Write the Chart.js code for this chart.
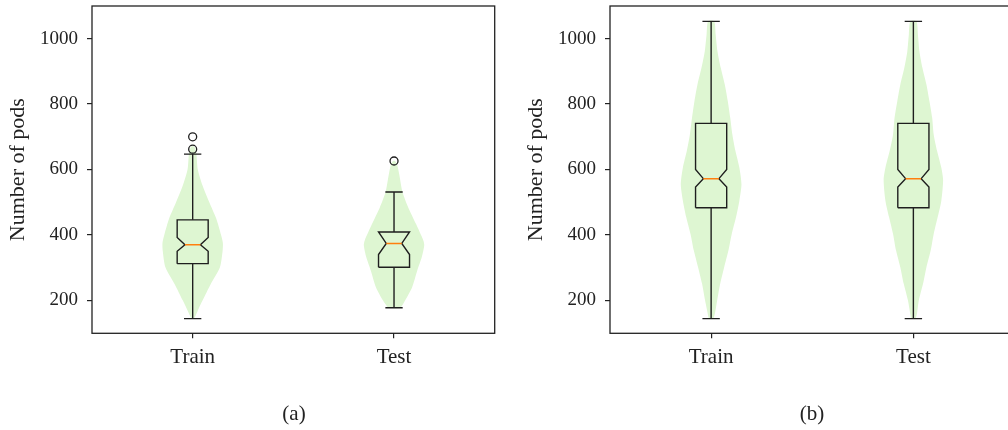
<!DOCTYPE html>
<html>
<head>
<meta charset="utf-8">
<script src="https://cdn.jsdelivr.net/npm/chart.js@4.4.0/dist/chart.umd.min.js"></script>
<style>
  html, body { margin: 0; padding: 0; background: #fff; overflow: hidden; }
  body { width: 1008px; height: 430px; position: relative; }
  .panel { position: absolute; top: 0; width: 500px; height: 430px; }
  #wrapA { left: 0; }
  #wrapB { left: 518px; }
  .caption {
    position: absolute; top: 401px; width: 100px; text-align: center;
    font-family: 'Liberation Serif', 'DejaVu Serif', serif; font-size: 21px; color: #222;
    line-height: 24px;
  }
  #capA { left: 244px; }
  #capB { left: 762px; }
</style>
</head>
<body>
<div class="panel" id="wrapA"><canvas id="chartA" width="500" height="430"></canvas></div>
<div class="panel" id="wrapB"><canvas id="chartB" width="500" height="430"></canvas></div>
<div class="caption" id="capA">(a)</div>
<div class="caption" id="capB">(b)</div>
<script>
// ---- data ----
const categories = ['Train', 'Test'];
const yTicks = [200, 400, 600, 800, 1000];

// panel (a): violin outline (value levels + relative width) and box stats
const a_trainLevels  = [145, 175, 200, 250, 300, 350, 375, 400, 450, 500, 550, 600, 650, 670];
const a_trainDensity = [0.05, 0.2, 0.33, 0.6, 0.9, 0.99, 1.0, 0.94, 0.78, 0.55, 0.33, 0.17, 0.12, 0.05];
const a_testLevels   = [177, 200, 240, 291, 332, 368, 383, 433, 484, 531, 586, 616, 626];
const a_testDensity  = [0.2, 0.37, 0.6, 0.77, 0.92, 1.0, 0.97, 0.73, 0.47, 0.28, 0.17, 0.1, 0.03];
const a_whiskerLow  = [144, 177];
const a_q1          = [312, 301];
const a_notchLow    = [350, 340];
const a_median      = [370, 374];
const a_notchHigh   = [392, 409];
const a_q3          = [446, 409];
const a_whiskerHigh = [647, 531];
const a_fliers      = [[662, 700], [626]];

// panel (b)
const b_trainLevels  = [145, 200, 251, 301, 352, 403, 454, 504, 555, 606, 657, 707, 758, 809, 860, 910, 961, 1012, 1053];
const b_trainDensity = [0.08, 0.2, 0.3, 0.43, 0.57, 0.68, 0.82, 0.93, 1.0, 0.93, 0.8, 0.7, 0.63, 0.55, 0.45, 0.32, 0.21, 0.15, 0.1];
const b_testLevels   = [145, 200, 251, 301, 352, 403, 454, 504, 568, 606, 657, 707, 758, 809, 860, 910, 961, 1012, 1053];
const b_testDensity  = [0.08, 0.18, 0.32, 0.43, 0.57, 0.67, 0.8, 0.92, 0.98, 0.92, 0.78, 0.67, 0.62, 0.53, 0.43, 0.3, 0.2, 0.15, 0.1];
const b_whiskerLow  = [144, 144];
const b_q1          = [483, 483];
const b_notchLow    = [546, 546];
const b_median      = [572, 572];
const b_notchHigh   = [600, 600];
const b_q3          = [741, 741];
const b_whiskerHigh = [1053, 1053];
const b_fliers      = [[], []];

// ---- styling ----
const VIOLIN_HALF = 0.15;
const BOX_HALF = 0.077;
const CAP_HALF = 0.043;
const VIOLIN_COLOR = 'rgb(222, 246, 210)';
const LINE_COLOR = '#1e1e1e';
const FONT = "'Liberation Serif', 'DejaVu Serif', serif";

function line(data, color, width, order) {
  return {
    data: data, showLine: true, fill: false, borderColor: color, borderWidth: width,
    pointRadius: 0, order: order, tension: 0
  };
}

function buildDatasets(p) {
  const sets = [];
  categories.forEach((name, i) => {
    const pos = i + 1;
    const lv = p.levels[i], dn = p.density[i];
    const left = lv.map((v, k) => ({x: pos - VIOLIN_HALF * dn[k], y: v}));
    const right = lv.map((v, k) => ({x: pos + VIOLIN_HALF * dn[k], y: v})).reverse();
    sets.push({
      data: left.concat(right, [left[0]]), showLine: true, fill: 'shape',
      backgroundColor: VIOLIN_COLOR, borderColor: 'transparent', borderWidth: 0,
      pointRadius: 0, order: 3, tension: 0.25
    });

    const x0 = pos - BOX_HALF, x1 = pos + BOX_HALF;
    const n0 = pos - BOX_HALF / 2, n1 = pos + BOX_HALF / 2;
    const q1 = p.q1[i], q3 = p.q3[i], med = p.median[i], nlo = p.notchLow[i], nhi = p.notchHigh[i];
    sets.push(line([
      {x: x0, y: q1}, {x: x1, y: q1}, {x: x1, y: nlo}, {x: n1, y: med}, {x: x1, y: nhi},
      {x: x1, y: q3}, {x: x0, y: q3}, {x: x0, y: nhi}, {x: n0, y: med}, {x: x0, y: nlo}, {x: x0, y: q1}
    ], LINE_COLOR, 1.4, 1));
    sets.push(line([{x: n0, y: med}, {x: n1, y: med}], '#ff7f0e', 1.5, 0));
    const hi = p.whiskerHigh[i], lo = p.whiskerLow[i];
    sets.push(line([{x: pos, y: q3}, {x: pos, y: hi}, {x: pos - CAP_HALF, y: hi}, {x: pos + CAP_HALF, y: hi}], LINE_COLOR, 1.4, 1));
    sets.push(line([{x: pos, y: q1}, {x: pos, y: lo}, {x: pos - CAP_HALF, y: lo}, {x: pos + CAP_HALF, y: lo}], LINE_COLOR, 1.4, 1));
    if (p.fliers[i].length) {
      sets.push({
        data: p.fliers[i].map(v => ({x: pos, y: v})), showLine: false,
        pointRadius: 4, pointStyle: 'circle', pointBorderColor: LINE_COLOR,
        pointBackgroundColor: 'transparent', pointBorderWidth: 1.3, order: 0
      });
    }
  });
  return sets;
}

// frame around the plot area (matplotlib style spines)
const frame = {
  id: 'frame',
  afterDatasetsDraw(chart) {
    const {ctx, chartArea: a} = chart;
    ctx.save();
    ctx.strokeStyle = '#222';
    ctx.lineWidth = 1.3;
    ctx.strokeRect(a.left, a.top, a.right - a.left, a.bottom - a.top);
    ctx.restore();
  }
};

function makeChart(id, p) {
  new Chart(document.getElementById(id), {
    type: 'scatter',
    data: { datasets: buildDatasets(p) },
    options: {
      responsive: false,
      animation: false,
      events: [],
      layout: { padding: { top: 6, right: 3.5, bottom: 38.8, left: 0 } },
      plugins: {
        legend: { display: false },
        tooltip: { enabled: false }
      },
      scales: {
        x: {
          type: 'linear', min: 0.5, max: 2.5,
          afterBuildTicks: s => { s.ticks = categories.map((c, i) => ({value: i + 1})); },
          afterFit: s => { s.height = 57.9; s.paddingLeft = 0; s.paddingRight = 0; },
          ticks: {
            callback: v => categories[v - 1], color: '#222', padding: 7,
            maxRotation: 0, font: { family: FONT, size: 21 }
          },
          grid: { drawOnChartArea: false, drawTicks: true, tickLength: 5, color: '#222', lineWidth: 1.2 },
          border: { display: false }
        },
        y: {
          type: 'linear', min: 99, max: 1100,
          afterBuildTicks: s => { s.ticks = yTicks.map(v => ({value: v})); },
          afterFit: s => { s.width = 92; s.paddingTop = 0; s.paddingBottom = 0; },
          ticks: { callback: v => String(v), color: '#222', padding: 9, font: { family: FONT, size: 19 } },
          grid: { drawOnChartArea: false, drawTicks: true, tickLength: 5, color: '#222', lineWidth: 1.2 },
          border: { display: false },
          title: {
            display: true, text: 'Number of pods', color: '#222',
            font: { family: FONT, size: 22 }, padding: { top: 5, bottom: 0 }
          }
        }
      }
    },
    plugins: [frame]
  });
}

makeChart('chartA', {
  levels: [a_trainLevels, a_testLevels], density: [a_trainDensity, a_testDensity],
  whiskerLow: a_whiskerLow, q1: a_q1, notchLow: a_notchLow, median: a_median,
  notchHigh: a_notchHigh, q3: a_q3, whiskerHigh: a_whiskerHigh, fliers: a_fliers
});
makeChart('chartB', {
  levels: [b_trainLevels, b_testLevels], density: [b_trainDensity, b_testDensity],
  whiskerLow: b_whiskerLow, q1: b_q1, notchLow: b_notchLow, median: b_median,
  notchHigh: b_notchHigh, q3: b_q3, whiskerHigh: b_whiskerHigh, fliers: b_fliers
});
</script>
</body>
</html>
